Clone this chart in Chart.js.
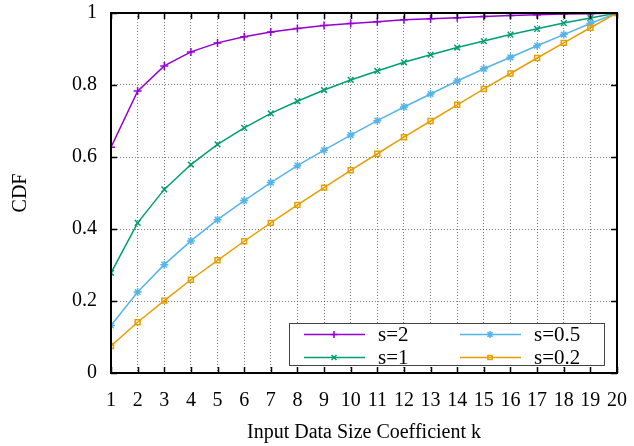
<!DOCTYPE html>
<html>
<head>
<meta charset="utf-8">
<script src="https://cdn.jsdelivr.net/npm/chart.js@4"></script>
<style>
  html, body { margin: 0; padding: 0; background: #fff; }
  #wrap { width: 634px; height: 446px; }
</style>
</head>
<body>
<div id="wrap"><canvas id="chart" width="634" height="446"></canvas></div>
<script>
// k values on the x axis
const ks = [1, 2, 3, 4, 5, 6, 7, 8, 9, 10, 11, 12, 13, 14, 15, 16, 17, 18, 19, 20];

// CDF
const s2 = [0.627, 0.783, 0.853, 0.892, 0.917, 0.934, 0.947, 0.957, 0.965, 0.971,
            0.976, 0.981, 0.984, 0.987, 0.990, 0.993, 0.995, 0.997, 0.998, 1.0];
const s1 = [0.278, 0.417, 0.510, 0.579, 0.635, 0.681, 0.721, 0.755, 0.786, 0.814,
            0.839, 0.863, 0.884, 0.904, 0.922, 0.940, 0.956, 0.972, 0.986, 1.0];
const s05 = [0.132, 0.225, 0.301, 0.367, 0.426, 0.479, 0.529, 0.576, 0.619, 0.661,
             0.701, 0.739, 0.775, 0.811, 0.845, 0.877, 0.909, 0.940, 0.971, 1.0];
const s02 = [0.075, 0.141, 0.201, 0.259, 0.313, 0.366, 0.417, 0.467, 0.515, 0.563,
             0.609, 0.655, 0.700, 0.745, 0.789, 0.832, 0.875, 0.917, 0.959, 1.0];

const seriesNames = ['s=2', 's=1', 's=0.5', 's=0.2'];
const yTicks = [0, 0.2, 0.4, 0.6, 0.8, 1];
const yTickLabels = ['0', '0.2', '0.4', '0.6', '0.8', '1'];

const FONT = 'Liberation Serif';

function pts(arr) {
  return arr.map((v, i) => ({ x: ks[i], y: v }));
}

function ds(label, arr, color, style, order) {
  const open = style === 'rect';
  return {
    label: label,
    data: pts(arr),
    borderColor: color,
    backgroundColor: open ? 'rgba(0,0,0,0)' : color,
    borderWidth: 1.5,
    pointStyle: style,
    pointRadius: open ? 3.5 : 4,
    pointBorderWidth: 1.5,
    pointBorderColor: color,
    pointBackgroundColor: open ? 'rgba(0,0,0,0)' : color,
    tension: 0,
    order: order
  };
}

// frame + inward ticks + legend box (gnuplot style)
const gnuplotBits = {
  id: 'gnuplotBits',
  afterDraw(chart) {
    const ctx = chart.ctx;
    const a = chart.chartArea;
    const xs = chart.scales.x, ys = chart.scales.y;
    ctx.save();
    ctx.strokeStyle = '#000';
    ctx.lineWidth = 1.5;
    ctx.setLineDash([]);
    // inward tick marks
    ctx.beginPath();
    ks.forEach(k => {
      const px = Math.round(xs.getPixelForValue(k)) + 0.5;
      ctx.moveTo(px, a.bottom); ctx.lineTo(px, a.bottom - 6);
      ctx.moveTo(px, a.top); ctx.lineTo(px, a.top + 6);
    });
    yTicks.forEach(v => {
      const py = Math.round(ys.getPixelForValue(v)) + 0.5;
      ctx.moveTo(a.left, py); ctx.lineTo(a.left + 6, py);
      ctx.moveTo(a.right, py); ctx.lineTo(a.right - 6, py);
    });
    ctx.stroke();
    ctx.lineWidth = 2;
    ctx.strokeRect(a.left, a.top, a.right - a.left, a.bottom - a.top);

    // legend box
    const bw = 315, bh = 42;
    const bx = a.right - 13 - bw, by = a.bottom - 8 - bh;
    ctx.fillStyle = '#fff';
    ctx.fillRect(bx, by, bw, bh);
    ctx.strokeStyle = '#444';
    ctx.lineWidth = 1;
    ctx.strokeRect(bx + 0.5, by + 0.5, bw, bh);
    const rows = [by + 11.5, by + 34.5];
    const cols = [bx + 15, bx + 171];
    chart.data.datasets.forEach((d, i) => {
      const cx = cols[Math.floor(i / 2)];
      const cy = rows[i % 2];
      ctx.strokeStyle = d.borderColor;
      ctx.fillStyle = d.pointBackgroundColor;
      ctx.lineWidth = 1.5;
      ctx.beginPath();
      ctx.moveTo(cx, cy); ctx.lineTo(cx + 61, cy);
      ctx.stroke();
      Chart.helpers.drawPoint(ctx, {
        pointStyle: d.pointStyle,
        radius: d.pointRadius - 0.5,
        borderWidth: 1.5,
        rotation: 0
      }, cx + 30, cy);
      ctx.fillStyle = '#000';
      ctx.font = '21px "' + FONT + '"';
      ctx.textBaseline = 'middle';
      ctx.textAlign = 'left';
      ctx.fillText(d.label, cx + 74, cy + 1);
    });
    ctx.restore();
  }
};

new Chart(document.getElementById('chart'), {
  type: 'line',
  data: {
    datasets: [
      ds(seriesNames[0], s2, '#9400d3', 'cross', 3),
      ds(seriesNames[1], s1, '#009e73', 'crossRot', 2),
      ds(seriesNames[2], s05, '#56b4e9', 'star', 1),
      ds(seriesNames[3], s02, '#e69f00', 'rect', 0)
    ]
  },
  options: {
    responsive: false,
    animation: false,
    layout: { padding: { top: 13, right: 17, left: 0, bottom: 0 } },
    plugins: { legend: { display: false }, tooltip: { enabled: false } },
    scales: {
      x: {
        type: 'linear',
        min: 1, max: 20,
        afterFit(scale) {
          scale.height = 73;
          scale.paddingLeft = 0;
          scale.paddingRight = 0;
        },
        afterBuildTicks(scale) { scale.ticks = ks.map(v => ({ value: v })); },
        ticks: { color: '#000', font: { family: FONT, size: 20 }, padding: 16, maxRotation: 0, autoSkip: false },
        grid: { color: 'rgba(0,0,0,0.5)', lineWidth: 1, drawTicks: false },
        border: { display: false, dash: [1, 2] },
        title: { display: true, text: 'Input Data Size Coefficient k', color: '#000',
                 font: { family: FONT, size: 20 }, padding: { top: 0, bottom: 1 } }
      },
      y: {
        min: 0, max: 1,
        afterFit(scale) {
          scale.width = 111;
          scale.paddingTop = 0;
          scale.paddingBottom = 0;
        },
        afterBuildTicks(scale) { scale.ticks = yTicks.map(v => ({ value: v })); },
        ticks: {
          color: '#000', font: { family: FONT, size: 20 }, padding: 14,
          callback: (v) => yTickLabels[yTicks.indexOf(v)]
        },
        grid: { color: 'rgba(0,0,0,0.5)', lineWidth: 1, drawTicks: false },
        border: { display: false, dash: [1, 2] },
        title: { display: true, text: 'CDF', color: '#000',
                 font: { family: FONT, size: 20 }, padding: { top: 9, bottom: 0 } }
      }
    }
  },
  plugins: [gnuplotBits]
});
</script>
</body>
</html>
